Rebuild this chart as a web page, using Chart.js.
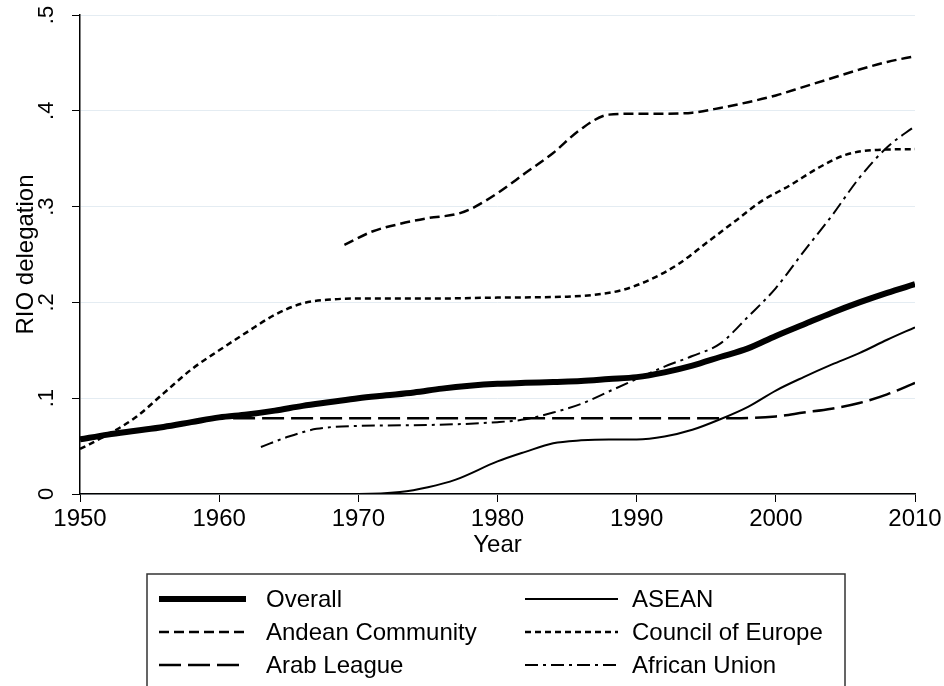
<!DOCTYPE html>
<html>
<head>
<meta charset="utf-8">
<script src="https://cdn.jsdelivr.net/npm/chart.js@4.4.1/dist/chart.umd.min.js"></script>
<style>
  html, body { margin: 0; padding: 0; background: #fff; }
  canvas { display: block; }
</style>
</head>
<body>
<canvas id="rioChart" width="944" height="686"></canvas>
<script>
// DATA

const seriesLabels = ["Overall", "ASEAN", "Andean Community", "Council of Europe", "Arab League", "African Union"];

const overallYears = [1950, 1952, 1954, 1956, 1958, 1960, 1962, 1964, 1966, 1968, 1970, 1972, 1974, 1976, 1978, 1980,
  1982, 1984, 1986, 1988, 1990, 1992, 1994, 1996, 1998, 2000, 2002, 2004, 2006, 2008, 2010];
const overall = [0.057, 0.062, 0.066, 0.070, 0.075, 0.080, 0.083, 0.087, 0.092, 0.096, 0.100, 0.103, 0.106, 0.110, 0.113, 0.115,
  0.116, 0.117, 0.118, 0.120, 0.122, 0.127, 0.134, 0.143, 0.152, 0.165, 0.177, 0.189, 0.200, 0.210, 0.219];

const aseanYears = [1967, 1970, 1973, 1975, 1977, 1980, 1982, 1984, 1986, 1988, 1990, 1992, 1994, 1996, 1998, 2000,
  2002, 2004, 2006, 2008, 2010];
const asean = [0.000, 0.000, 0.002, 0.007, 0.015, 0.034, 0.044, 0.053, 0.056, 0.057, 0.057, 0.060, 0.067, 0.078, 0.091, 0.108,
  0.122, 0.135, 0.147, 0.161, 0.174];

const andeanYears = [1969, 1971, 1973, 1975, 1977, 1978, 1980, 1982, 1984, 1986, 1988, 1990, 1992, 1994, 1996, 1998,
  2000, 2002, 2004, 2006, 2008, 2010];
const andean = [0.260, 0.274, 0.282, 0.288, 0.292, 0.297, 0.314, 0.335, 0.356, 0.381, 0.396, 0.397, 0.397, 0.398, 0.403, 0.409,
  0.416, 0.425, 0.434, 0.443, 0.451, 0.457];

const europeYears = [1950, 1952, 1954, 1956, 1958, 1960, 1962, 1964, 1966, 1968, 1970, 1975, 1980, 1985, 1987, 1989,
  1991, 1993, 1995, 1997, 1999, 2001, 2003, 2005, 2007, 2010];
const europe = [0.047, 0.062, 0.080, 0.105, 0.130, 0.150, 0.169, 0.187, 0.199, 0.203, 0.204, 0.204, 0.205, 0.206, 0.208, 0.213,
  0.224, 0.240, 0.262, 0.284, 0.306, 0.322, 0.340, 0.354, 0.359, 0.360];

const arabYears = [1961, 1970, 1980, 1990, 1997, 2000, 2002, 2004, 2006, 2008, 2010];
const arab = [0.079, 0.079, 0.079, 0.079, 0.079, 0.081, 0.085, 0.089, 0.095, 0.104, 0.116];

const africaYears = [1963, 1965, 1967, 1970, 1975, 1980, 1982, 1984, 1986, 1988, 1990, 1992, 1994, 1996, 1998, 2000,
  2002, 2004, 2006, 2008, 2010];
const africa = [0.049, 0.060, 0.068, 0.071, 0.072, 0.075, 0.078, 0.085, 0.094, 0.107, 0.120, 0.133, 0.144, 0.157, 0.185, 0.215,
  0.253, 0.290, 0.330, 0.362, 0.384];

const xTicks = [1950, 1960, 1970, 1980, 1990, 2000, 2010];
const yTicks = [0, 0.1, 0.2, 0.3, 0.4, 0.5];

// HELPERS

const FONT = "'Liberation Sans', Arial, sans-serif";

function toPoints(years, values) {
  return years.map((yr, i) => ({ x: yr, y: values[i] }));
}

function yLabel(v) {
  if (v === 0) return "0";
  return v.toFixed(1).replace(/^0/, "");
}

function lineSet(label, points, width, dash) {
  return {
    label: label,
    data: points,
    borderColor: "#000",
    backgroundColor: "#000",
    borderWidth: width,
    borderDash: dash,
    pointRadius: 0,
    fill: false,
    cubicInterpolationMode: "monotone"
  };
}

// LEGEND (two columns, boxed, under the axis)

const boxedLegend = {
  id: "boxedLegend",
  afterDraw(chart) {
    const ctx = chart.ctx;
    ctx.save();
    ctx.strokeStyle = "#333";
    ctx.lineWidth = 1.5;
    ctx.strokeRect(147, 574, 698, 140);

    const rows = [599, 632, 665];
    const cols = [{ x0: 159, x1: 246, tx: 266 }, { x0: 525, x1: 618, tx: 632 }];

    chart.data.datasets.forEach((ds, i) => {
      const r = rows[Math.floor(i / 2)];
      const c = cols[i % 2];
      ctx.beginPath();
      ctx.setLineDash(ds.borderDash || []);
      ctx.lineWidth = ds.borderWidth;
      ctx.strokeStyle = ds.borderColor;
      ctx.moveTo(c.x0, r);
      ctx.lineTo(c.x1, r);
      ctx.stroke();
      ctx.setLineDash([]);
      ctx.fillStyle = "#000";
      ctx.font = "24px " + FONT;
      ctx.textBaseline = "middle";
      ctx.textAlign = "left";
      ctx.fillText(ds.label, c.tx, r + 1);
    });
    ctx.restore();
  }
};

// CHART

Chart.defaults.font.family = FONT;
Chart.defaults.color = "#000";

new Chart(document.getElementById("rioChart"), {
  type: "line",
  data: {
    datasets: [
      lineSet(seriesLabels[0], toPoints(overallYears, overall), 6, []),
      lineSet(seriesLabels[1], toPoints(aseanYears, asean), 2, []),
      lineSet(seriesLabels[2], toPoints(andeanYears, andean), 2.5, [10, 5]),
      lineSet(seriesLabels[3], toPoints(europeYears, europe), 2.5, [6, 4]),
      lineSet(seriesLabels[4], toPoints(arabYears, arab), 2.5, [22, 7]),
      lineSet(seriesLabels[5], toPoints(africaYears, africa), 2, [13, 5, 3, 5])
    ]
  },
  options: {
    responsive: false,
    animation: false,
    devicePixelRatio: 1,
    layout: { padding: { top: 15, right: 29, bottom: 122, left: 0 } },
    plugins: {
      legend: { display: false },
      tooltip: { enabled: false }
    },
    scales: {
      x: {
        type: "linear",
        min: 1950,
        max: 2010,
        afterFit: (scale) => {
          scale.height = 70;
          scale.paddingLeft = 0;
          scale.paddingRight = 0;
        },
        afterBuildTicks: (scale) => { scale.ticks = xTicks.map(v => ({ value: v })); },
        ticks: {
          font: { size: 24 },
          padding: 3,
          maxRotation: 0,
          callback: (v) => String(v)
        },
        grid: { drawOnChartArea: false, tickColor: "#000", tickLength: 8 },
        border: { color: "#000", width: 1.5 },
        title: { display: true, text: "Year", font: { size: 24 }, padding: { top: 0, bottom: 4 } }
      },
      y: {
        min: 0,
        max: 0.5,
        afterFit: (scale) => {
          scale.width = 80;
          scale.paddingTop = 0;
          scale.paddingBottom = 0;
        },
        afterBuildTicks: (scale) => { scale.ticks = yTicks.map(v => ({ value: v })); },
        ticks: {
          font: { size: 22 },
          padding: 16,
          minRotation: 90,
          maxRotation: 90,
          crossAlign: "center",
          callback: (v) => yLabel(v)
        },
        grid: { color: "#e4ecf2", lineWidth: 1, tickColor: "#000", tickLength: 8 },
        border: { color: "#000", width: 1.5 },
        title: { display: true, text: "RIO delegation", font: { size: 24 }, padding: { top: 12, bottom: 0 } }
      }
    }
  },
  plugins: [boxedLegend]
});
</script>
</body>
</html>
